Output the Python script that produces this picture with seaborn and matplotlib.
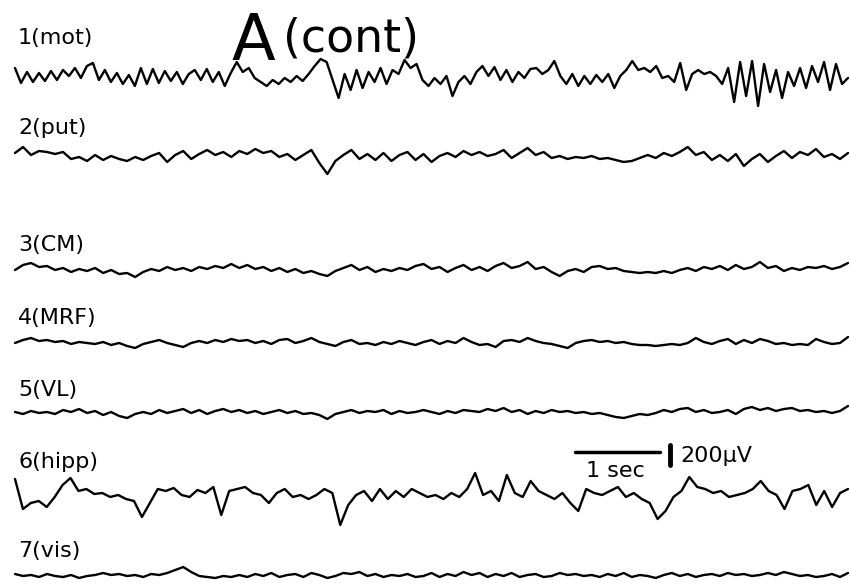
import numpy as np
import pandas as pd
import matplotlib
matplotlib.use("Agg")
import matplotlib.pyplot as plt
import seaborn as sns

sns.set_style("white")
plt.rcParams['font.family'] = ['DejaVu Sans']
plt.rcParams['text.color'] = 'black'

# EEG traces, in units of 10 uV (up = positive)
mot = [10, -5, 6, -4, 5, -3, 7, -2, 8, 2, 10, 0, 12, 15, -2, 8, -4, 5, -6, 3,
       -8, 10, -6, 9, -5, 7, -3, 6, -6, 4, 8, -2, 9, -4, 6, -8, 5, 16, 6, 10,
       0, -4, -8, -2, -6, 0, -4, 2, -3, 4, 12, 19, 16, -2, -20, 4, -12, 8, -10, 6,
       -4, 10, -6, 8, 4, 18, 10, 14, -2, -8, 0, -6, 2, -18, -4, 2, -6, 6, 12, 2,
       11, -2, 8, -4, 6, 0, 9, 10, 4, 8, 17, 2, -6, 4, -8, 2, -6, 3, -4, 4,
       -10, 2, 8, 17, 8, 10, 6, 12, 0, 2, -4, 15, -12, 4, 8, 4, 6, 2, -6, 10,
       -24, 16, -18, 17, -28, 14, -14, 8, -20, 6, -8, 10, -10, 12, -4, 16, -12, 14, -6, 0]
put = [4, 10, 2, 6, 5, 3, 5, -2, 0, -4, 2, -3, 1, -2, -4, 0, -3, 1, 4, -5,
       2, 6, -2, 3, 7, 2, 5, 0, 6, 3, 8, 4, 6, 0, 3, -3, 2, 7, -6, -17,
       -4, 2, 7, -2, 3, -3, 4, -4, 2, 5, -3, 3, -5, 1, 4, 0, 6, 2, 5, 1,
       3, 7, -1, 4, 9, 2, 5, -1, 1, -2, 0, -1, 1, -2, -1, -3, -5, -4, -1, 2,
       -1, 4, 1, 5, 10, 2, 5, -3, 2, -4, 3, -9, -2, 3, -5, 1, 6, -1, 5, 2,
       8, 0, 3, -2, 4]
cm = [0, 5, 7, 3, 4, 0, 2, -2, 1, -1, 2, -3, 0, -4, -3, -7, -2, 1, -1, 3,
      0, 2, -1, 3, 1, 4, 2, 6, 2, 5, 1, 3, -1, 2, -2, 1, -3, -1, -4, -6,
      -1, 2, 5, 0, 3, -2, 1, -1, 2, 0, 4, 6, 1, 3, -2, 2, 5, 0, 3, -1,
      4, 7, 2, 4, 8, 1, 3, -2, -6, -1, 1, -2, 3, 4, 1, 2, -1, -2, -3, -2,
      -3, -1, -3, 0, 2, -1, 3, 1, 4, 0, 5, 1, 3, 8, 2, 4, -1, 2, 0, 3,
      2, 4, 1, 3, 7]
mrf = [0, 3, 5, 2, 3, 1, 2, -1, 1, 0, -1, 1, -2, 0, -3, -5, -1, 1, 3, 0,
       -2, -4, 0, 2, 0, 3, 1, 4, 2, 3, 0, 2, -1, 3, 4, 0, 2, 5, 1, -1,
       -3, 1, 3, -1, 0, -2, 1, -1, 2, 0, -2, 1, 3, -1, 2, 0, 5, 1, -2, -1,
       -4, 2, 3, 1, 5, 2, 0, -1, -3, -5, 0, 2, 3, 1, 2, 0, 1, -1, -2, -2,
       -3, -2, -1, -2, 0, 5, 1, -1, 2, 4, -1, 3, 0, 4, 2, -1, 0, -2, -1, -2,
       4, 1, -1, 0, 6]
vl = [1, -1, 2, 0, 1, -1, 3, 1, 4, 0, 2, -2, 1, -3, -5, -1, 1, -1, 3, 0,
      2, 4, 0, 3, -1, 2, 4, 1, 3, 0, 2, -1, 1, 3, 0, 2, -1, 0, -2, -6,
      -1, 1, 3, 0, 2, 1, 3, -1, 2, 0, 1, 3, 1, -1, 2, 0, 3, 2, 1, 4,
      2, 5, 1, 3, -1, 2, 0, 3, 1, 2, 0, 1, -1, 0, -2, -4, -5, -3, -1, -2,
      0, 3, 1, 4, 5, 1, 3, 0, 1, 3, -1, 4, 6, 3, 5, 2, 4, 5, 2, 3,
      1, 2, 0, 2, 7]
hipp = [18, -12, -6, -4, -10, 0, 12, 19, 6, 8, 3, 4, 0, 2, -2, -4, -20, -6, 8, 6,
        9, 2, 0, 7, 4, 10, -18, 6, 8, 10, 4, 2, -6, 4, 8, 0, 2, -2, 2, 8,
        4, -28, -8, 2, 6, -4, 8, -2, 6, 0, 8, 4, 0, 2, -2, 4, 0, 8, 24, 2,
        6, -4, 22, 4, 0, 16, 6, 2, -2, 4, -6, -14, 8, 4, 2, 6, 10, 0, 4, -2,
        -6, -22, -14, 0, 6, 20, 10, 8, 4, 6, 0, 2, 4, 8, 16, 6, 2, -12, 6, 8,
        12, -8, 6, -10, 4, 8]
vis = [2, 0, 1, -1, 2, 0, -1, 1, -2, 0, 1, 3, 1, 2, 0, 1, -1, 2, 1, 3,
       6, 9, 4, 0, -1, -2, 0, -1, 1, -1, 2, 0, 3, -1, 1, 2, -1, 3, 1, -2,
       0, 3, 2, 4, 0, 2, -1, 1, 0, 2, -1, 0, 3, -1, 2, 0, 4, 1, 3, -1,
       2, 0, 3, -1, 1, 2, -1, 0, 3, 1, 2, 0, 1, -1, 2, 0, 3, -1, 1, 0,
       -2, 1, 3, 0, 2, -1, 1, 2, 0, 3, 1, 2, 0, 1, 3, 1, 4, 2, 0, 1,
       -1, 0, 2, -1, 3]

labels = ["1(mot)", "2(put)", "3(CM)", "4(MRF)", "5(VL)", "6(hipp)", "7(vis)"]
traces = [mot, put, cm, mrf, vl, hipp, vis]
duration = 9.8  # seconds shown across the page

# layout: baseline of each channel (px from top) and label height
W, H = 850, 588
baselines = [78, 157, 270, 343, 413, 497, 576]
label_y = [38, 128, 245, 318, 390, 462, 551]
x0, px_per_sec, uv_per_px = 15, 85, 10

rows = []
for lab, vals, b in zip(labels, traces, baselines):
    t = np.linspace(0, duration, len(vals))
    uv = np.array(vals) * 10
    for ti, v in zip(t, uv):
        rows.append({"channel": lab, "t": ti, "y": v - b * uv_per_px})
df = pd.DataFrame(rows)

fig = plt.figure(figsize=(W / 100, H / 100), dpi=100)
ax = fig.add_axes([0, 0, 1, 1])
sns.lineplot(data=df, x="t", y="y", units="channel", estimator=None,
             sort=False, color="black", lw=1.7, ax=ax)
ax.set_xlim(-x0 / px_per_sec, (W - x0) / px_per_sec)
ax.set_ylim(-H * uv_per_px, 0)
ax.axis("off")


def fx(px):
    return px / W


def fy(py):
    return 1 - py / H


for lab, ly in zip(labels, label_y):
    fig.text(fx(18), fy(ly), lab, fontsize=16, va="center", ha="left")

fig.text(fx(232), fy(60), "A", fontsize=46, va="baseline", ha="left")
fig.text(fx(283), fy(52), "(cont)", fontsize=33, va="baseline", ha="left")

# scale bars: 1 sec and 200 uV
t_bar = (575 - x0) / px_per_sec
ax.plot([t_bar, t_bar + 1], [-452 * uv_per_px] * 2, color="black", lw=2.5)
t_v = (670 - x0) / px_per_sec
ax.plot([t_v, t_v], [-445 * uv_per_px, -445 * uv_per_px - 200], color="black", lw=3.5)
fig.text(fx(586), fy(477), "1 sec", fontsize=16, va="baseline", ha="left")
fig.text(fx(680), fy(456), "200\u03bcV", fontsize=16, va="center", ha="left")

fig.savefig("out.png", dpi=100, facecolor="white")
